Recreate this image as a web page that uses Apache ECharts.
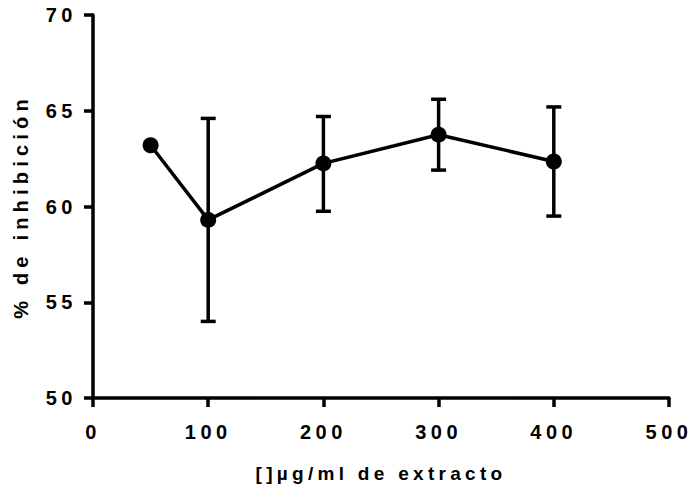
<!DOCTYPE html>
<html>
<head>
<meta charset="utf-8">
<script src="https://cdn.jsdelivr.net/npm/echarts@6/dist/echarts.min.js"></script>
<style>
  html, body { margin: 0; padding: 0; background: #fff; }
  #chart { width: 692px; height: 495px; }
</style>
</head>
<body>
<div id="chart"></div>
<script>
// Extract concentration (µg/ml) and mean inhibition (%)
const doses = [50, 100, 200, 300, 400];
const inhibition = [63.2, 59.3, 62.25, 63.75, 62.35];
// Error bar limits (no bar at the lowest dose)
const errLow = [null, 54.0, 59.75, 61.9, 59.5];
const errHigh = [null, 64.6, 64.7, 65.6, 65.2];

// Axis ranges and tick steps
const xMin = 0, xMax = 500, xStep = 100;
const yMin = 50, yMax = 70, yStep = 5;

const xTitle = '[]µg/ml de extracto';
const yTitle = '% de inhibición';

const FONT = '"Liberation Sans", Arial, Helvetica, sans-serif';

const meanData = doses.map((d, i) => [d, inhibition[i]]);
const errData = doses
  .map((d, i) => [d, errLow[i], errHigh[i]])
  .filter(r => r[1] != null && r[2] != null);

const chart = echarts.init(document.getElementById('chart'), null, { renderer: 'svg' });

const axisLineStyle = { color: '#000', width: 3.5 };

chart.setOption({
  animation: false,
  backgroundColor: '#fff',
  grid: { left: 93, right: 23, top: 15, bottom: 97, containLabel: false },
  xAxis: {
    type: 'value',
    min: xMin, max: xMax, interval: xStep,
    axisLine: { show: true, onZero: false, lineStyle: axisLineStyle },
    axisTick: { show: true, length: 9, lineStyle: axisLineStyle },
    splitLine: { show: false },
    axisLabel: { color: '#000', fontFamily: FONT, fontWeight: 'bold', fontSize: 20, margin: 24 },
    name: xTitle,
    nameLocation: 'middle',
    nameGap: 66,
    nameTextStyle: { color: '#000', fontFamily: FONT, fontWeight: 'bold', fontSize: 19 }
  },
  yAxis: {
    type: 'value',
    min: yMin, max: yMax, interval: yStep,
    axisLine: { show: true, onZero: false, lineStyle: axisLineStyle },
    axisTick: { show: true, length: 9, lineStyle: axisLineStyle },
    splitLine: { show: false },
    axisLabel: { color: '#000', fontFamily: FONT, fontWeight: 'bold', fontSize: 20, margin: 16, padding: [5, 0, 0, 0] },
    name: yTitle,
    nameLocation: 'middle',
    nameGap: 62,
    nameRotate: 90,
    nameTextStyle: { color: '#000', fontFamily: FONT, fontWeight: 'bold', fontSize: 20 }
  },
  series: [
    {
      type: 'custom',
      data: errData,
      z: 2,
      renderItem: function (params, api) {
        const x = api.value(0);
        const top = api.coord([x, api.value(2)]);
        const bot = api.coord([x, api.value(1)]);
        const half = 7.5;
        const style = { stroke: '#000', lineWidth: 3.5, fill: null };
        return {
          type: 'group',
          children: [
            { type: 'line', shape: { x1: top[0], y1: top[1], x2: bot[0], y2: bot[1] }, style: style },
            { type: 'line', shape: { x1: top[0] - half, y1: top[1], x2: top[0] + half, y2: top[1] }, style: style },
            { type: 'line', shape: { x1: bot[0] - half, y1: bot[1], x2: bot[0] + half, y2: bot[1] }, style: style }
          ]
        };
      }
    },
    {
      type: 'line',
      data: meanData,
      z: 3,
      symbol: 'circle',
      symbolSize: 16,
      lineStyle: { color: '#000', width: 3.5 },
      itemStyle: { color: '#000', borderWidth: 0 }
    }
  ]
});

// Wide letter spacing on all chart text, a little wider for the axis titles
document.querySelectorAll('#chart svg text').forEach(function (t) {
  const s = t.textContent;
  t.style.letterSpacing = s === xTitle ? '4.3px' : s === yTitle ? '5.2px' : '4.5px';
});
</script>
</body>
</html>
